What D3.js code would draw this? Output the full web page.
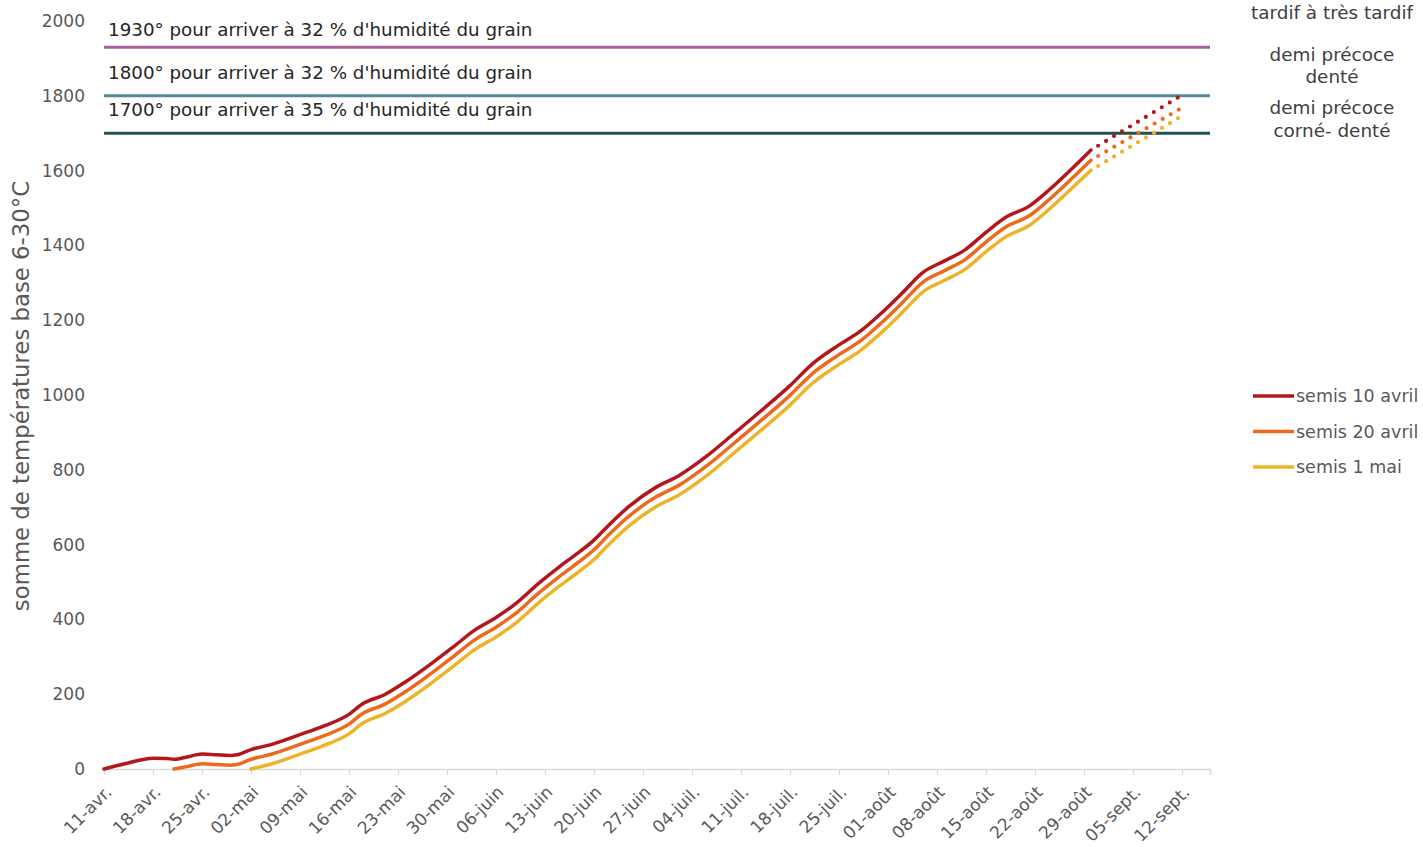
<!DOCTYPE html>
<html>
<head>
<meta charset="utf-8">
<script src="https://cdn.jsdelivr.net/npm/d3@7"></script>
<style>
  body { margin: 0; background: #fff; }
  svg { font-family: "DejaVu Sans", sans-serif; }
</style>
</head>
<body>
<div id="chart"></div>
<script>
// jours depuis le 11 avril
const jours = [0,3,7,9,10,12,14,16,18,19,21,24,28,31,35,37,40,43,47,50,53,56,59,62,65,67,70,72,75,79,82,86,90,94,98,101,105,108,111,114,117,120,123,126,129,132,135,138,141];

const semis10avril = [0,14,29,28,26,33,40,38,36,38,52,66,92,112,146,175,198,232,285,328,372,405,445,495,540,568,612,650,702,755,783,835,897,960,1025,1080,1134,1170,1218,1272,1328,1358,1388,1435,1477,1503,1548,1600,1655];
const semis20avril = [null,null,null,null,0,7,14,12,10,12,26,40,66,86,120,149,172,206,259,302,346,379,419,469,514,542,586,624,676,729,757,809,871,934,999,1054,1108,1144,1192,1246,1302,1332,1362,1409,1451,1477,1522,1574,1628];
const semis1mai = [null,null,null,null,null,null,null,null,null,null,0,14,40,60,94,123,147,180,233,276,320,353,393,443,488,516,560,598,650,703,731,783,845,908,973,1028,1082,1118,1166,1220,1276,1306,1336,1383,1425,1451,1496,1548,1601];

// projection (pointillés)
const joursProjection = [141,154];
const proj10avril = [1655,1802];
const proj20avril = [1628,1768];
const proj1mai = [1601,1746];

const seuils = [1930,1800,1700];
const seuilLabels = [
  "1930° pour arriver à 32 % d'humidité du grain",
  "1800° pour arriver à 32 % d'humidité du grain",
  "1700° pour arriver à 35 % d'humidité du grain"
];
const seuilColors = ["#a5629f","#56889e","#1f5257"];

const typeLabels = [["tardif à très tardif"],["demi précoce","denté"],["demi précoce","corné- denté"]];

const seriesNames = ["semis 10 avril","semis 20 avril","semis 1 mai"];
const seriesColors = ["#b3171b","#ed6a1c","#ebb42b"];

const tickLabels = ["11-avr.","18-avr.","25-avr.","02-mai","09-mai","16-mai","23-mai","30-mai","06-juin","13-juin","20-juin","27-juin","04-juil.","11-juil.","18-juil.","25-juil.","01-août","08-août","15-août","22-août","29-août","05-sept.","12-sept."];
const yTicks = [0,200,400,600,800,1000,1200,1400,1600,1800,2000];

const width = 1423, height = 847;
const start = new Date(2023, 3, 11);
const toDate = (d) => d3.timeDay.offset(start, d);

const svg = d3.select("#chart").append("svg")
  .attr("width", width).attr("height", height);

const x = d3.scaleTime()
  .domain([start, toDate(158)])
  .range([104, 1210]);
const y = d3.scaleLinear()
  .domain([0, 2000])
  .range([769, 21]);

// axe x
const tickDates = tickLabels.map((t, i) => toDate(i * 7));
const xAxis = svg.append("g")
  .attr("transform", `translate(0,${y(0)})`)
  .call(d3.axisBottom(x).tickValues(tickDates).tickSize(6)
    .tickFormat((d, i) => tickLabels[i]));
xAxis.attr("font-family", null).attr("font-size", null);
xAxis.select(".domain").attr("stroke", "#d9d9d9").attr("stroke-width", 1.5);
xAxis.selectAll(".tick line").attr("stroke", "#d9d9d9").attr("stroke-width", 1.2);
xAxis.selectAll(".tick text")
  .attr("fill", "#595959")
  .style("font-size", "17px")
  .attr("text-anchor", "end")
  .attr("transform", "translate(4,20) rotate(-45)")
  .attr("dy", "0.35em")
  .attr("y", 0).attr("x", 0);

// axe y (étiquettes seules)
svg.append("g").selectAll("text")
  .data(yTicks).enter()
  .append("text")
    .attr("x", 85)
    .attr("y", (d) => y(d))
    .attr("dy", "0.35em")
    .attr("text-anchor", "end")
    .attr("fill", "#595959")
    .style("font-size", "17px")
    .text((d) => d);

svg.append("text")
  .attr("transform", `translate(29,${(180 + 612) / 2}) rotate(-90)`)
  .attr("text-anchor", "middle")
  .attr("fill", "#595959")
  .style("font-size", "22.8px")
  .text("somme de températures base 6-30°C");

// seuils
const seuilG = svg.append("g");
seuils.forEach((s, i) => {
  seuilG.append("line")
    .attr("x1", x.range()[0]).attr("x2", x.range()[1])
    .attr("y1", y(s)).attr("y2", y(s))
    .attr("stroke", seuilColors[i]).attr("stroke-width", 3);
  seuilG.append("text")
    .attr("x", 108)
    .attr("y", y(s) - (i === 0 ? 11 : 17))
    .attr("fill", "#262626")
    .style("font-size", "18.3px")
    .text(seuilLabels[i]);
});

// types de variétés (à droite)
const typeY = [[19],[61,83],[114,137]];
typeLabels.forEach((lines, i) => {
  lines.forEach((t, j) => {
    svg.append("text")
      .attr("x", 1332).attr("y", typeY[i][j])
      .attr("text-anchor", "middle")
      .attr("fill", "#404040")
      .style("font-size", "18.4px")
      .text(t);
  });
});

// courbes
const line = d3.line()
  .defined((d) => d.v !== null)
  .x((d) => x(toDate(d.j)))
  .y((d) => y(d.v))
  .curve(d3.curveMonotoneX);

const series = [semis10avril, semis20avril, semis1mai];
const projections = [proj10avril, proj20avril, proj1mai];

series.forEach((vals, i) => {
  svg.append("path")
    .datum(jours.map((j, k) => ({ j: j, v: vals[k] })))
    .attr("d", line)
    .attr("fill", "none")
    .attr("stroke", seriesColors[i])
    .attr("stroke-width", 3.5)
    .attr("stroke-linejoin", "round")
    .attr("stroke-linecap", "round");

  svg.append("path")
    .datum(joursProjection.map((j, k) => ({ j: j, v: projections[i][k] })))
    .attr("d", line)
    .attr("fill", "none")
    .attr("stroke", seriesColors[i])
    .attr("stroke-width", 4.2)
    .attr("stroke-linecap", "round")
    .attr("stroke-dasharray", "0 9.3")
    .attr("stroke-dashoffset", 1);
});

// légende
const legend = svg.append("g");
seriesNames.forEach((n, i) => {
  const ly = 396 + i * 35.5;
  legend.append("line")
    .attr("x1", 1253).attr("x2", 1294)
    .attr("y1", ly).attr("y2", ly)
    .attr("stroke", seriesColors[i]).attr("stroke-width", 3.5);
  legend.append("text")
    .attr("x", 1296).attr("y", ly)
    .attr("dy", "0.35em")
    .attr("fill", "#595959")
    .style("font-size", "17.5px")
    .text(n);
});
</script>
</body>
</html>
